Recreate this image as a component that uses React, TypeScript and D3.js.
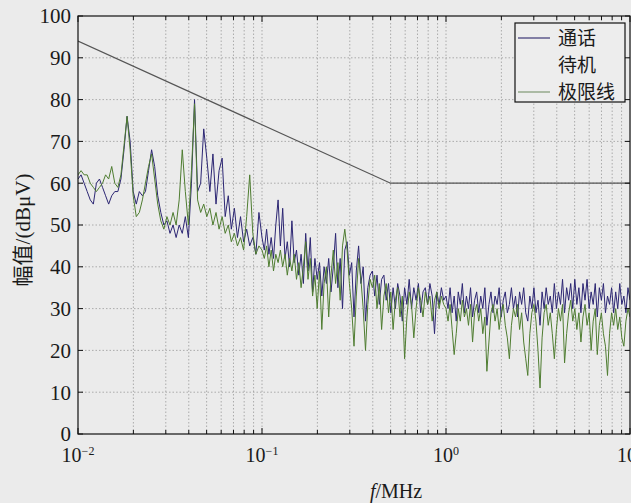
import React from 'react'
import * as d3 from 'd3'

const width = 631
const height = 503
const margin = { left: 78, right: 1, top: 16, bottom: 69 }

// measured levels, dBμV, one value per sweep step (log-spaced inside each decade)
const callDec1 = [61, 62, 60, 58, 56, 55, 60, 61, 59, 57, 55, 57, 58, 58, 61, 68, 76, 70, 58, 55,
  58, 57, 58, 63, 68, 64, 57, 53, 50, 51, 48, 50, 47, 50, 48, 52, 47, 60, 80, 58,
  60, 73, 66, 58, 67, 55, 63, 66, 52, 57, 49, 54, 47, 52, 46, 49, 45, 47, 43, 53]
const callDec2 = [47, 44, 49, 43, 47, 42, 50, 56, 45, 54, 42, 46, 40, 51, 41, 44, 38, 43, 36, 48,
  39, 47, 34, 42, 37, 41, 33, 40, 36, 42, 34, 40, 48, 35, 42, 30, 44, 46, 38, 41,
  28, 39, 45, 36, 40, 27, 35, 38, 39, 33, 38, 31, 37, 38, 32, 36, 29, 35, 30, 36,
  33, 27, 35, 31, 37, 30, 35, 32, 36, 29, 34, 35, 31, 36, 33, 24, 34, 31, 35, 32]
const callDec3 = [33, 30, 35, 29, 33, 27, 34, 31, 36, 29, 33, 30, 35, 28, 32, 34, 29, 33, 30, 35,
  26, 31, 34, 29, 33, 31, 35, 28, 32, 34, 29, 31, 35, 30, 33, 28, 34, 31, 35, 29,
  27, 33, 30, 35, 29, 32, 26, 34, 30, 35, 31, 33, 29, 36, 30, 34, 31, 37, 29, 35,
  32, 36, 30, 37, 31, 35, 29, 36, 32, 37, 30, 34, 31, 36, 28, 35, 32, 36, 29, 33,
  31, 35, 29, 34, 30, 36, 31, 33, 29, 35, 32]

const idleDec1 = [62, 63, 62, 62, 60, 59, 58, 59, 60, 62, 61, 64, 60, 59, 62, 69, 76, 68, 57, 52,
  53, 56, 60, 64, 67, 61, 55, 51, 49, 52, 50, 53, 50, 56, 68, 58, 50, 63, 79, 56,
  53, 55, 52, 54, 50, 53, 49, 52, 48, 50, 46, 48, 45, 47, 44, 52, 62, 48, 43, 45]
const idleDec2 = [44, 42, 45, 40, 44, 39, 43, 41, 44, 40, 43, 38, 42, 39, 43, 37, 41, 35, 40, 46,
  37, 42, 33, 38, 30, 39, 25, 36, 40, 28, 38, 44, 36, 41, 32, 45, 49, 44, 36, 30,
  21, 33, 42, 37, 30, 20, 31, 37, 35, 38, 30, 36, 25, 33, 36, 29, 34, 25, 32, 35,
  28, 33, 18, 28, 34, 31, 23, 30, 35, 32, 28, 34, 31, 33, 27, 32, 34, 30, 33, 31]
const idleDec3 = [30, 27, 31, 25, 19, 24, 30, 27, 32, 28, 30, 26, 31, 22, 29, 31, 27, 30, 24, 28,
  15, 22, 29, 31, 27, 30, 25, 29, 31, 26, 23, 18, 26, 30, 28, 31, 25, 29, 22, 18,
  14, 24, 29, 31, 27, 20, 11, 23, 29, 31, 26, 29, 24, 18, 25, 30, 27, 31, 17, 24,
  29, 32, 27, 30, 25, 29, 22, 28, 31, 26, 29, 20, 27, 30, 19, 26, 29, 24, 21, 14,
  24, 29, 26, 30, 25, 28, 23, 21, 27, 30, 28]

const limitFreq = [0.01, 0.5, 10]
const limitVal = [94, 60, 60]

const yTicks = [0, 10, 20, 30, 40, 50, 60, 70, 80, 90, 100]
const decadeExps = [-2, -1, 0, 1]
const legendLabels = ['通话', '待机', '极限线']

type Pt = { f: number; v: number }

// sweep steps are log-spaced within each decade
function sweep(exp0: number, vals: number[], perDecade: number): Pt[] {
  return vals.map((v, i) => ({ f: Math.pow(10, exp0 + i / perDecade), v }))
}

const callSeries = [...sweep(-2, callDec1, 60), ...sweep(-1, callDec2, 80), ...sweep(0, callDec3, 90)]
const idleSeries = [...sweep(-2, idleDec1, 60), ...sweep(-1, idleDec2, 80), ...sweep(0, idleDec3, 90)]
const limitSeries: Pt[] = limitFreq.map((f, i) => ({ f, v: limitVal[i] }))

const serif = '"Liberation Serif", "Noto Sans CJK SC", serif'
const cjk = '"Noto Sans CJK SC", "Liberation Serif", sans-serif'

export default function App() {
  const x0 = margin.left
  const x1 = width - margin.right
  const y0 = height - margin.bottom
  const y1 = margin.top

  const x = d3.scaleLog().domain([0.01, 10]).range([x0, x1])
  const y = d3.scaleLinear().domain([0, 100]).range([y0, y1])

  const line = d3.line<Pt>().x(d => x(d.f)).y(d => y(d.v))

  // minor grid: 1..9 × each decade
  const minor: number[] = []
  for (const e of [-2, -1, 0]) {
    for (let k = 1; k <= 9; k++) minor.push(k * Math.pow(10, e))
  }
  minor.push(10)

  const gridColor = '#9a9a9a'

  return (
    <svg width={width} height={height} style={{ position: 'absolute', left: 0, top: 0 }}>
      <rect x={0} y={0} width={width} height={height} fill="#ebebeb" />
      <defs>
        <clipPath id="plot">
          <rect x={x0} y={y1} width={x1 - x0} height={y0 - y1} />
        </clipPath>
      </defs>

      {/* grid */}
      {minor.filter(f => f > 0.01 && f < 10).map(f => (
        <line key={'gx' + f} x1={x(f)} x2={x(f)} y1={y1} y2={y0}
          stroke={gridColor} strokeWidth={0.8} strokeDasharray="1.5,2" />
      ))}
      {yTicks.filter(v => v > 0 && v < 100).map(v => (
        <line key={'gy' + v} x1={x0} x2={x1} y1={y(v)} y2={y(v)}
          stroke={gridColor} strokeWidth={0.8} strokeDasharray="1.5,2" />
      ))}

      {/* data */}
      <g clipPath="url(#plot)">
        <path d={line(limitSeries) || ''} fill="none" stroke="#555" strokeWidth={1.2} />
        <path d={line(callSeries) || ''} fill="none" stroke="#2c2673" strokeWidth={1} />
        <path d={line(idleSeries) || ''} fill="none" stroke="#4f7d31" strokeWidth={1} />
      </g>

      {/* ticks */}
      {minor.map(f => {
        const major = decadeExps.some(e => Math.abs(f - Math.pow(10, e)) < 1e-9)
        const len = major ? 6 : 4
        return (
          <g key={'tx' + f}>
            <line x1={x(f)} x2={x(f)} y1={y0} y2={y0 - len} stroke="#111" />
            <line x1={x(f)} x2={x(f)} y1={y1} y2={y1 + len} stroke="#111" />
          </g>
        )
      })}
      {yTicks.map(v => (
        <g key={'ty' + v}>
          <line x1={x0} x2={x0 + 5} y1={y(v)} y2={y(v)} stroke="#111" />
          <line x1={x1} x2={x1 - 5} y1={y(v)} y2={y(v)} stroke="#111" />
        </g>
      ))}

      <rect x={x0} y={y1} width={x1 - x0} height={y0 - y1} fill="none" stroke="#111" strokeWidth={1.2} />

      {/* tick labels */}
      {yTicks.map(v => (
        <text key={'ly' + v} x={x0 - 7} y={y(v)} dy="0.35em" textAnchor="end"
          fontFamily={serif} fontSize={21} fill="#1a1a1a">{v}</text>
      ))}
      {decadeExps.map(e => (
        <text key={'lx' + e} x={x(Math.pow(10, e))} y={462} textAnchor="middle"
          fontFamily={serif} fontSize={20} fill="#1a1a1a">
          10<tspan dy={-7} fontSize={12}>{e < 0 ? '−' + Math.abs(e) : String(e)}</tspan>
        </text>
      ))}

      {/* axis titles */}
      <text x={396} y={498} textAnchor="middle" fontFamily={serif} fontSize={20} fill="#1a1a1a">
        <tspan fontStyle="italic">f</tspan>/MHz
      </text>
      <text transform={`translate(30,230) rotate(-90)`} textAnchor="middle"
        fontFamily={serif} fontSize={21} fill="#1a1a1a">幅值/(dBμV)</text>

      {/* legend */}
      <g>
        <rect x={515} y={23} width={110} height={79} fill="#ededed" stroke="#111" strokeWidth={1.2} />
        {legendLabels.map((label, i) => {
          const ly = 38 + i * 27
          const stroke = i === 0 ? '#3a3575' : i === 2 ? '#7f9873' : 'none'
          return (
            <g key={label}>
              <line x1={518} x2={550} y1={ly} y2={ly} stroke={stroke} strokeWidth={1.2} />
              <text x={558} y={ly} dy="0.36em" fontFamily={cjk} fontSize={19} fill="#1a1a1a">{label}</text>
            </g>
          )
        })}
      </g>
    </svg>
  )
}
